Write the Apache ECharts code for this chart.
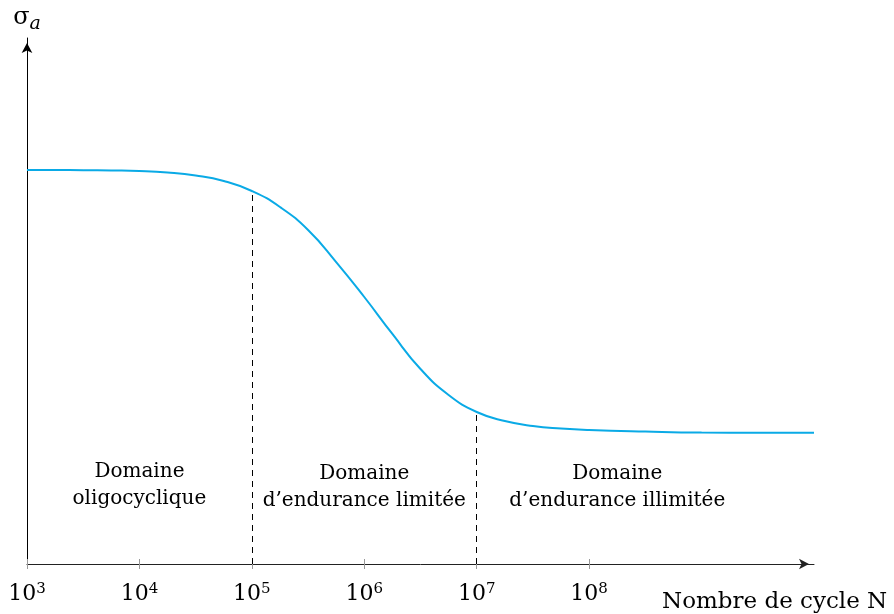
<!DOCTYPE html>
<html>
<head>
<meta charset="utf-8">
<title>Courbe de Wöhler</title>
<script src="https://cdn.jsdelivr.net/npm/echarts@6/dist/echarts.min.js"></script>
<style>
  html, body { margin: 0; padding: 0; background: #fff; }
  #chart { width: 894px; height: 614px; }
</style>
</head>
<body>
<div id="chart"></div>
<script>
// exposant de N (N = 10^x, axe logarithmique) et amplitude sigma_a (unités arbitraires)
var logN = [3, 3.25, 3.5, 3.75, 4, 4.25, 4.5, 4.75, 5, 5.25, 5.5, 5.75,
            6, 6.25, 6.5, 6.75, 7, 7.25, 7.5, 7.75, 8, 8.5, 9, 9.5, 10];
var sigmaA = [74.90, 74.90, 74.87, 74.81, 74.71, 74.43, 73.86, 72.81, 70.91, 67.87, 63.50, 57.41,
              50.76, 43.73, 37.07, 32.13, 28.90, 27.19, 26.24, 25.76, 25.48, 25.19, 25.00, 24.96, 24.96];

// graduations de l'axe N (exposants)
var tickValues = [3, 4, 5, 6, 7, 8];

// limites des domaines (traits pointillés)
var limitN = [5, 7];
var limitSigma = [70.9, 28.9];

// textes des domaines
var regionN = [4, 6, 8.25];
var regionSigma = [15, 14.6, 14.6];
var regionNames = ['Domaine\noligocyclique', 'Domaine\nd\u2019endurance limitée', 'Domaine\nd\u2019endurance illimitée'];

var serif = 'DejaVu Serif';
var chart = echarts.init(document.getElementById('chart'));

var dashed = [];
for (var i = 0; i < limitN.length; i++) {
  dashed.push([{ coord: [limitN[i], 0] }, { coord: [limitN[i], limitSigma[i]] }]);
}

var labels = [];
for (var j = 0; j < regionNames.length; j++) {
  labels.push({ coord: [regionN[j], regionSigma[j]], value: regionNames[j] });
}

var xBase = {
  type: 'value',
  min: 3,
  max: 10,
  gridIndex: 0,
  position: 'bottom',
  splitLine: { show: false }
};

chart.setOption({
  animation: false,
  grid: { left: 27, right: 80, top: 38, bottom: 50 },
  xAxis: [
    Object.assign({}, xBase, {
      name: 'Nombre de cycle N',
      nameLocation: 'end',
      nameGap: -152,
      nameTextStyle: {
        fontFamily: serif, fontSize: 23, color: '#000',
        align: 'left', verticalAlign: 'top', lineHeight: 23,
        padding: [27, 0, 0, 0]
      },
      axisLine: {
        lineStyle: { color: '#222', width: 1 },
        symbol: ['none', 'arrow'],
        symbolSize: [8, 10],
        symbolOffset: [0, -5]
      },
      axisTick: { show: true, length: 5, customValues: tickValues, lineStyle: { color: '#999' } },
      axisLabel: {
        customValues: tickValues,
        margin: 18,
        formatter: function (v) {
          return '{b|10}{s|' + Math.round(v) + '}';
        },
        rich: {
          b: { fontFamily: serif, fontSize: 22, color: '#000', lineHeight: 23, verticalAlign: 'bottom' },
          s: { fontFamily: serif, fontSize: 15, color: '#000', lineHeight: 23, verticalAlign: 'top' }
        }
      }
    }),
    // petits traits au-dessus de l'axe
    Object.assign({}, xBase, {
      axisLine: { show: false },
      axisTick: { show: true, inside: true, length: 5, customValues: tickValues, lineStyle: { color: '#999' } },
      axisLabel: { show: false }
    })
  ],
  yAxis: {
    type: 'value',
    min: 0,
    max: 100,
    name: '{s|σ}{a|a}',
    nameLocation: 'end',
    nameGap: 4,
    nameTextStyle: {
      rich: {
        s: { fontFamily: serif, fontSize: 24, color: '#000', lineHeight: 28, verticalAlign: 'top' },
        a: { fontFamily: serif, fontSize: 19, fontStyle: 'italic', color: '#000', lineHeight: 28, verticalAlign: 'bottom' }
      }
    },
    axisLine: {
      show: true,
      lineStyle: { color: '#000', width: 1 },
      symbol: ['none', 'arrow'],
      symbolSize: [8, 10],
      symbolOffset: [0, -5]
    },
    axisTick: { show: false },
    axisLabel: { show: false },
    splitLine: { show: false }
  },
  series: [{
    type: 'line',
    data: logN.map(function (x, k) { return [x, sigmaA[k]]; }),
    smooth: true,
    showSymbol: false,
    lineStyle: { color: '#0aaae6', width: 2 },
    markLine: {
      silent: true,
      symbol: ['none', 'none'],
      label: { show: false },
      lineStyle: { color: '#000', type: [6, 5], width: 1 },
      data: dashed
    },
    markPoint: {
      silent: true,
      symbol: 'circle',
      symbolSize: 0,
      label: {
        show: true,
        position: 'inside',
        formatter: '{c}',
        fontFamily: serif,
        fontSize: 20,
        lineHeight: 27,
        color: '#000',
        align: 'center'
      },
      data: labels
    }
  }]
});
</script>
</body>
</html>
